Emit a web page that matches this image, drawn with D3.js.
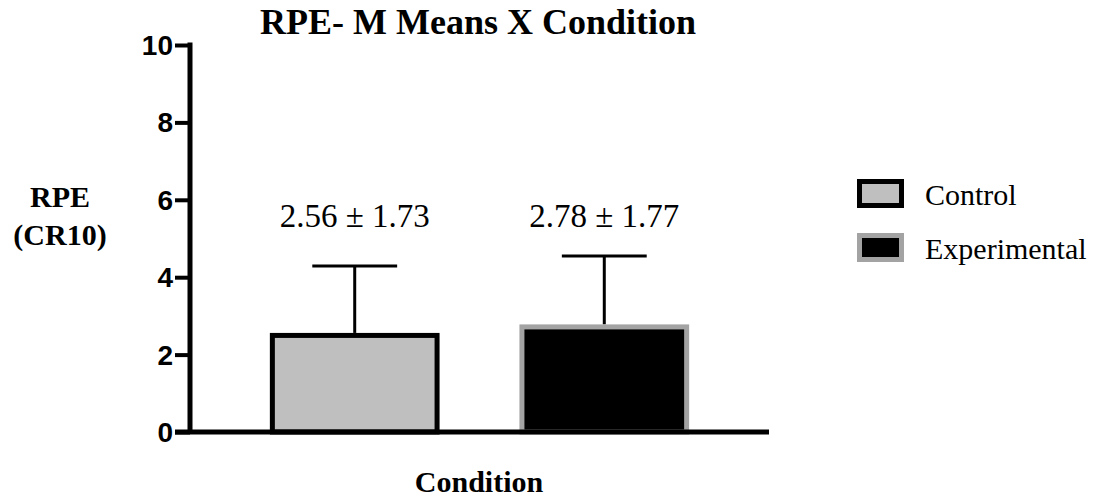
<!DOCTYPE html>
<html>
<head>
<meta charset="utf-8">
<script src="https://cdn.jsdelivr.net/npm/d3@7"></script>
<style>
  html, body { margin: 0; padding: 0; background: #fff; }
  svg { display: block; }
</style>
</head>
<body>
<svg id="chart" width="1099" height="499"></svg>
<script>
// Mean RPE (CR10) by condition, with standard deviations
const conditions = ["Control", "Experimental"];
const means = [2.56, 2.78];
const sds = [1.73, 1.77];
const yTicks = [0, 2, 4, 6, 8, 10];

const fills = ["#bfbfbf", "#000000"];
const strokes = ["#000000", "#a3a3a3"];

const serif = "'Liberation Serif', 'Times New Roman', serif";
const sans = "'Liberation Sans', Arial, sans-serif";

const svg = d3.select("#chart");

const plotLeft = 190, plotRight = 769, plotTop = 45, plotBottom = 432;

const x = d3.scaleBand().domain(conditions).range([plotLeft, plotRight]).padding(0.32);
const y = d3.scaleLinear().domain([0, 10]).range([plotBottom, plotTop]);

// Title
svg.append("text")
  .attr("x", 478).attr("y", 34)
  .attr("text-anchor", "middle")
  .attr("font-family", serif).attr("font-weight", "bold").attr("font-size", 36)
  .text("RPE- M Means X Condition");

// Y-axis title
const yt = svg.append("text")
  .attr("text-anchor", "middle")
  .attr("font-family", serif).attr("font-weight", "bold").attr("font-size", 30);
yt.append("tspan").attr("x", 60).attr("y", 207).text("RPE");
yt.append("tspan").attr("x", 60).attr("y", 245).text("(CR10)");

// X-axis title
svg.append("text")
  .attr("x", 479).attr("y", 492)
  .attr("text-anchor", "middle")
  .attr("font-family", serif).attr("font-weight", "bold").attr("font-size", 30)
  .text("Condition");

// Error bars (upper only)
const err = svg.append("g").attr("stroke", "#000").attr("stroke-width", 3);
conditions.forEach((c, i) => {
  const cx = x(c) + x.bandwidth() / 2;
  const capW = x.bandwidth() / 2;
  err.append("line")
    .attr("x1", cx).attr("x2", cx)
    .attr("y1", y(means[i])).attr("y2", y(means[i] + sds[i]));
  err.append("line")
    .attr("x1", cx - capW / 2).attr("x2", cx + capW / 2)
    .attr("y1", y(means[i] + sds[i])).attr("y2", y(means[i] + sds[i]));
});

// Bars
const sw = 5;
svg.append("g").selectAll("rect")
  .data(conditions)
  .join("rect")
  .attr("x", d => x(d) + sw / 2)
  .attr("width", x.bandwidth() - sw)
  .attr("y", (d, i) => y(means[i]) + sw / 2)
  .attr("height", (d, i) => y(0) - y(means[i]) - sw / 2)
  .attr("fill", (d, i) => fills[i])
  .attr("stroke", (d, i) => strokes[i])
  .attr("stroke-width", sw);

// Value labels
svg.append("g").selectAll("text")
  .data(conditions)
  .join("text")
  .attr("x", d => x(d) + x.bandwidth() / 2)
  .attr("y", 227)
  .attr("text-anchor", "middle")
  .attr("font-family", serif).attr("font-size", 33)
  .text((d, i) => `${means[i].toFixed(2)} \u00B1 ${sds[i].toFixed(2)}`);

// Y axis
const yAxis = svg.append("g")
  .attr("transform", `translate(${plotLeft},0)`)
  .call(d3.axisLeft(y).tickValues(yTicks).tickFormat(d3.format("d")).tickSize(15).tickPadding(2));
yAxis.select(".domain").attr("stroke", "#000").attr("stroke-width", 5)
  .attr("d", `M0,${plotBottom}V${plotTop - 2.5}`);
yAxis.selectAll(".tick line").attr("stroke", "#000").attr("stroke-width", 4);
yAxis.selectAll(".tick text")
  .attr("font-family", sans).attr("font-weight", "bold").attr("font-size", 28)
  .attr("fill", "#000").attr("dy", "0.34em");

// X axis baseline
svg.append("line")
  .attr("x1", plotLeft - 15).attr("x2", plotRight)
  .attr("y1", y(0)).attr("y2", y(0))
  .attr("stroke", "#000").attr("stroke-width", 5);

// Legend
const legend = svg.append("g");
conditions.forEach((c, i) => {
  const ly = 179 + i * 54;
  legend.append("rect")
    .attr("x", 857 + sw / 2).attr("y", ly + sw / 2)
    .attr("width", 47 - sw).attr("height", 29 - sw)
    .attr("fill", fills[i]).attr("stroke", strokes[i]).attr("stroke-width", sw);
  legend.append("text")
    .attr("x", 925).attr("y", ly + 26)
    .attr("font-family", serif).attr("font-size", 30)
    .text(c);
});
</script>
</body>
</html>
